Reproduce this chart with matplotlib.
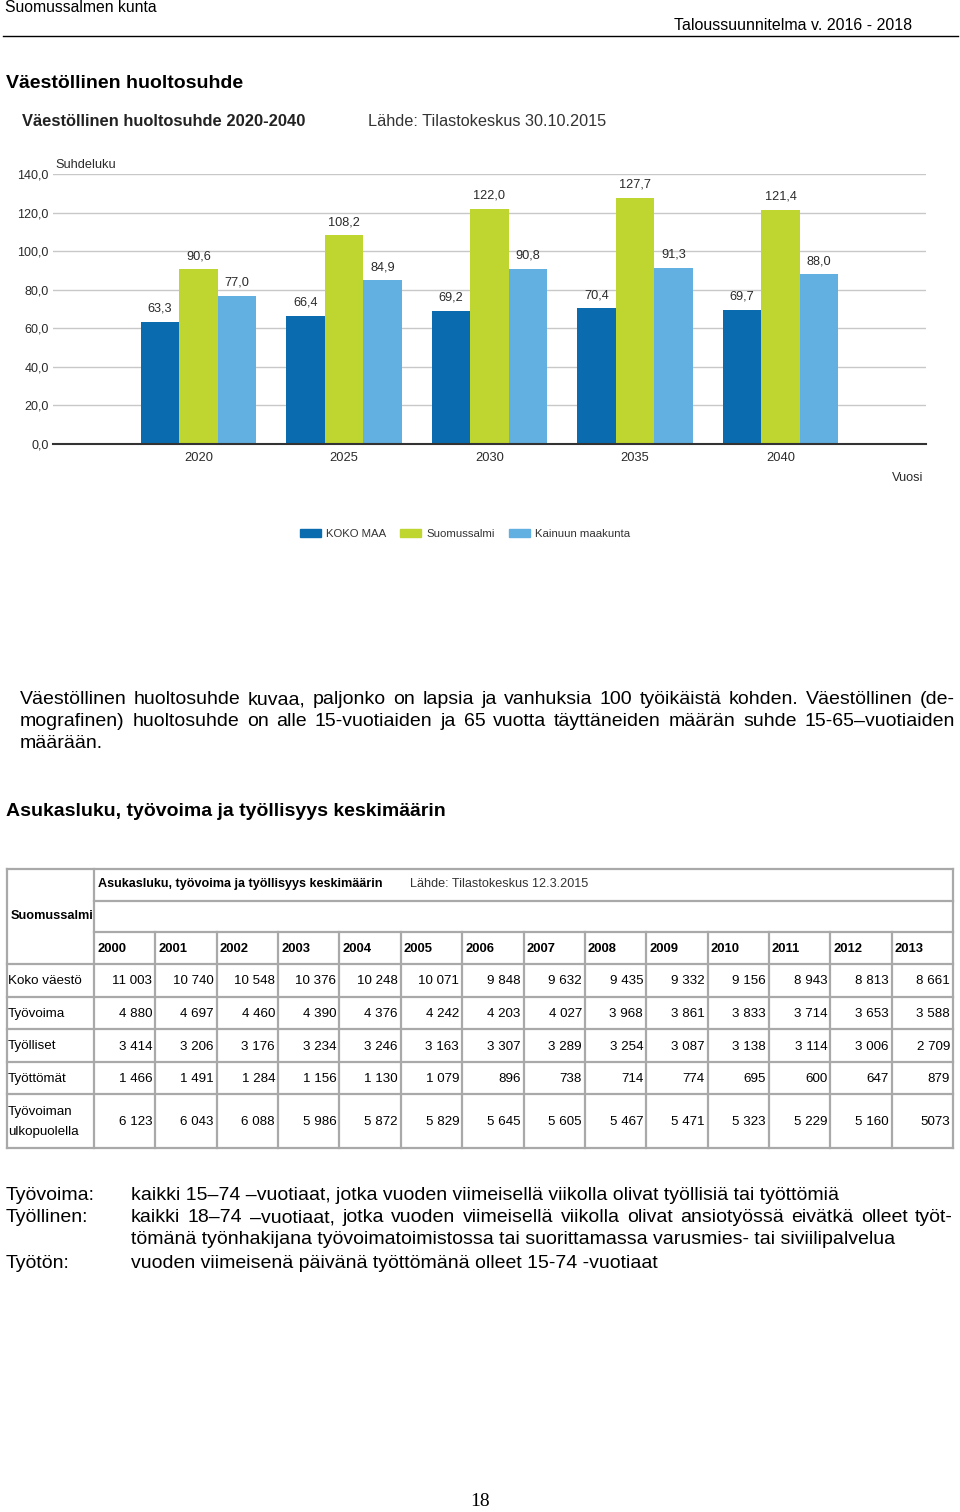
import matplotlib
matplotlib.use('Agg')
import matplotlib.pyplot as plt
from matplotlib.patches import Patch
import numpy as np

plt.rcParams['font.family'] = ['Liberation Sans', 'DejaVu Sans']

# chart data (väestöllinen huoltosuhde)
years = ['2020', '2025', '2030', '2035', '2040']
koko_maa = [63.3, 66.4, 69.2, 70.4, 69.7]
suomussalmi = [90.6, 108.2, 122.0, 127.7, 121.4]
kainuu = [77.0, 84.9, 90.8, 91.3, 88.0]
series_names = ['KOKO MAA', 'Suomussalmi', 'Kainuun maakunta']
colors = ['#0a6caf', '#bed62f', '#62afe1']
yticks = [0, 20, 40, 60, 80, 100, 120, 140]

# table data (asukasluku, työvoima ja työllisyys)
tab_years = ['2000', '2001', '2002', '2003', '2004', '2005', '2006',
             '2007', '2008', '2009', '2010', '2011', '2012', '2013']
row_labels = ['Koko väestö', 'Työvoima', 'Työlliset', 'Työttömät',
              'Työvoiman\nulkopuolella']
koko_vaesto = [11003, 10740, 10548, 10376, 10248, 10071, 9848, 9632, 9435,
               9332, 9156, 8943, 8813, 8661]
tyovoima = [4880, 4697, 4460, 4390, 4376, 4242, 4203, 4027, 3968, 3861,
            3833, 3714, 3653, 3588]
tyolliset = [3414, 3206, 3176, 3234, 3246, 3163, 3307, 3289, 3254, 3087,
             3138, 3114, 3006, 2709]
tyottomat = [1466, 1491, 1284, 1156, 1130, 1079, 896, 738, 714, 774, 695,
             600, 647, 879]
ulkopuolella = [6123, 6043, 6088, 5986, 5872, 5829, 5645, 5605, 5467, 5471,
                5323, 5229, 5160, 5073]
table_rows = [koko_vaesto, tyovoima, tyolliset, tyottomat, ulkopuolella]

W, H = 960, 1512
fig = plt.figure(figsize=(W / 100, H / 100), dpi=100)
page = fig.add_axes([0, 0, 1, 1])
page.set_xlim(0, W)
page.set_ylim(H, 0)
page.axis('off')


def justify(line, x0, x1, y, **kw):
    # spread the words of one line between x0 and x1
    texts = [page.text(0, y, w, ha='left', va='center', **kw) for w in line.split()]
    r = fig.canvas.get_renderer()
    widths = [t.get_window_extent(r).width for t in texts]
    gap = (x1 - x0 - sum(widths)) / (len(texts) - 1)
    x = x0
    for t, w in zip(texts, widths):
        t.set_x(x)
        x += w + gap


# page header
page.text(5, 8, 'Suomussalmen kunta', fontsize=11.3, va='center')
page.text(912, 25, 'Taloussuunnitelma v. 2016 - 2018', fontsize=11.5, va='center', ha='right')
page.plot([3, 958], [36, 36], color='black', lw=1)

page.text(6, 83, 'Väestöllinen huoltosuhde', fontsize=14, fontweight='bold', va='center')
page.text(22, 121, 'Väestöllinen huoltosuhde 2020-2040', fontsize=11.9, fontweight='bold',
          va='center', color='#222222')
page.text(368, 121, 'Lähde: Tilastokeskus 30.10.2015', fontsize=11.7, va='center',
          color='#333333')

# bar chart
ax = fig.add_axes([53 / W, 1 - 444 / H, (926 - 53) / W, (444 - 174) / H])
x = np.arange(len(years))
bw = 0.265
for i, (vals, c) in enumerate(zip([koko_maa, suomussalmi, kainuu], colors)):
    bars = ax.bar(x + (i - 1) * bw, vals, bw, color=c, zorder=3)
    ax.bar_label(bars, labels=[f'{v:.1f}'.replace('.', ',') for v in vals],
                 padding=5, fontsize=9.2, color='#2a2a2a')
ax.set_xlim(-1, 5)
ax.set_ylim(0, 140)
ax.set_yticks(yticks)
ax.set_yticklabels([f'{v:.1f}'.replace('.', ',') for v in yticks], fontsize=9, color='#2a2a2a')
ax.set_xticks(x)
ax.set_xticklabels(years, fontsize=9.3, color='#2a2a2a')
ax.tick_params(length=0)
ax.tick_params(axis='y', pad=3)
ax.tick_params(axis='x', pad=6)
ax.grid(axis='y', color='#c8c8c8', lw=1, zorder=0)
for s in ['top', 'left', 'right']:
    ax.spines[s].set_visible(False)
ax.spines['bottom'].set_color('#333333')
ax.spines['bottom'].set_linewidth(1.5)
ax.spines['bottom'].set_zorder(4)
page.text(55, 165, 'Suhdeluku', fontsize=9.2, color='#2a2a2a', va='center')
page.text(923, 478, 'Vuosi', fontsize=9.2, color='#2a2a2a', va='center', ha='right')

handles = [Patch(color=c, label=n) for c, n in zip(colors, series_names)]
fig.legend(handles=handles, loc='center', bbox_to_anchor=(465 / W, 1 - 534 / H), ncol=3,
           frameon=False, fontsize=8.2, handlelength=1.85, handleheight=0.7,
           columnspacing=1.25, handletextpad=0.45, labelcolor='#333333')

# paragraph
para = ['Väestöllinen huoltosuhde kuvaa, paljonko on lapsia ja vanhuksia 100 työikäistä kohden. Väestöllinen (de-',
        'mografinen) huoltosuhde on alle 15-vuotiaiden ja 65 vuotta täyttäneiden määrän suhde 15-65–vuotiaiden']
for k, line in enumerate(para):
    justify(line, 20, 955, 700 + 22 * k, fontsize=14)
page.text(20, 744, 'määrään.', fontsize=14, va='center')

page.text(6, 812, 'Asukasluku, työvoima ja työllisyys keskimäärin', fontsize=14,
          fontweight='bold', va='center')

# table
gc = '#a9a9a9'
tl, tr = 7, 953
c0 = 94
cw = (tr - c0) / len(tab_years)
rows_y = [869, 901, 932, 964, 997, 1029, 1062, 1094, 1148]
lw = 1.6
page.plot([tl, tr], [rows_y[0], rows_y[0]], color=gc, lw=lw)
for yy in rows_y[1:3]:
    page.plot([c0, tr], [yy, yy], color=gc, lw=lw)
for yy in rows_y[3:]:
    page.plot([tl, tr], [yy, yy], color=gc, lw=lw)
page.plot([tl, tl], [rows_y[0], rows_y[-1]], color=gc, lw=lw)
page.plot([tr, tr], [rows_y[0], rows_y[-1]], color=gc, lw=lw)
page.plot([c0, c0], [rows_y[0], rows_y[-1]], color=gc, lw=lw)
for j in range(1, len(tab_years)):
    xx = c0 + j * cw
    page.plot([xx, xx], [rows_y[2], rows_y[-1]], color=gc, lw=lw)

tfs = 9.6
page.text(98, 884, 'Asukasluku, työvoima ja työllisyys keskimäärin', fontsize=9.1,
          fontweight='bold', va='center')
page.text(410, 884, 'Lähde: Tilastokeskus 12.3.2015', fontsize=9.1,
          va='center', color='#333333')
page.text(11, 916, 'Suomussalmi', fontsize=9.2, fontweight='bold', va='center')
for j, yr in enumerate(tab_years):
    page.text(c0 + j * cw + 3, 949, yr, fontsize=9.4, fontweight='bold', va='center')
for i, (lab, vals) in enumerate(zip(row_labels, table_rows)):
    yc = (rows_y[3 + i] + rows_y[4 + i]) / 2 + 1
    page.text(8, yc, lab, fontsize=tfs, va='center', linespacing=2.0)
    for j, v in enumerate(vals):
        s = f'{v:,}'.replace(',', ' ')
        if i == 4 and j == len(vals) - 1:
            s = str(v)
        page.text(c0 + (j + 1) * cw - 3, yc, s, fontsize=tfs, va='center', ha='right')

# notes
page.text(6, 1195, 'Työvoima:', fontsize=14, va='center')
page.text(131, 1195, 'kaikki 15–74 –vuotiaat, jotka vuoden viimeisellä viikolla olivat työllisiä tai työttömiä',
          fontsize=14, va='center')
page.text(6, 1218, 'Työllinen:', fontsize=14, va='center')
justify('kaikki 18–74 –vuotiaat, jotka vuoden viimeisellä viikolla olivat ansiotyössä eivätkä olleet työt-',
        131, 953, 1218, fontsize=14)
page.text(131, 1240, 'tömänä työnhakijana työvoimatoimistossa tai suorittamassa varusmies- tai siviilipalvelua',
          fontsize=14, va='center')
page.text(6, 1263, 'Työtön:', fontsize=14, va='center')
page.text(131, 1263, 'vuoden viimeisenä päivänä työttömänä olleet 15-74 -vuotiaat', fontsize=14, va='center')

page.text(480, 1501, '18', fontsize=14, family=['Liberation Serif', 'DejaVu Serif'],
          ha='center', va='center')

fig.savefig('out.png', dpi=100)
